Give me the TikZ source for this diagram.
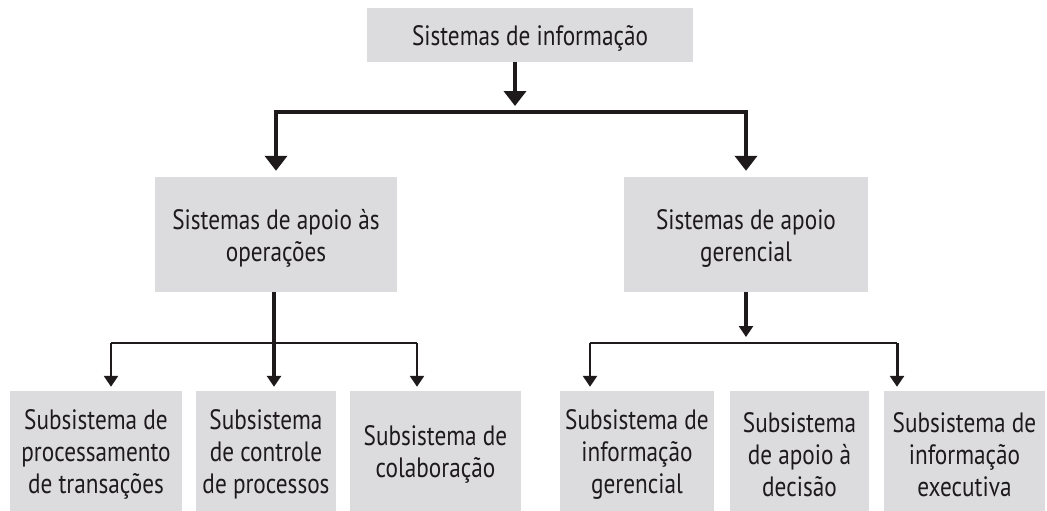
\documentclass[tikz,border=0pt]{standalone}
\usepackage{fontspec}
\setmainfont{PT Sans}[FakeStretch=0.83]
\usetikzlibrary{arrows.meta}
\definecolor{boxgray}{HTML}{DCDCDE}
\definecolor{ink}{HTML}{1E1A1B}
\tikzset{
  box/.style={fill=boxgray, draw=none, inner sep=0pt},
  txt/.style={align=center, inner sep=0pt, text=ink, yshift=-3.5pt,
    font=\fontsize{28}{32}\selectfont},
  mainline/.style={draw=ink, line width=4.2pt, line join=miter},
  subline/.style={draw=ink, line width=2.3pt, line join=miter},
  bighead/.style={-{Triangle[width=22pt,length=15pt]}},
  smallhead/.style={-{Triangle[width=14pt,length=11pt]}},
}
\begin{document}
\begin{tikzpicture}[x=1pt,y=-1pt]
\useasboundingbox (0,0) rectangle (1047,511);
% boxes
\node[box, minimum width=326pt, minimum height=54pt, label={[txt]center:Sistemas de informação}] (top) at (530,35) {};
\node[box, minimum width=242pt, minimum height=115pt, label={[txt]center:{Sistemas de apoio às\\operações}}] (opL) at (276,234.5) {};
\node[box, minimum width=244pt, minimum height=115pt, label={[txt]center:{Sistemas de apoio\\gerencial}}] (gerR) at (746,234.5) {};
\node[box, minimum width=172pt, minimum height=120pt, label={[txt]center:{Subsistema de\\processamento\\de transações}}] (b1) at (96,451) {};
\node[box, minimum width=140pt, minimum height=120pt, label={[txt]center:{Subsistema\\de controle\\de processos}}] (b2) at (266,451) {};
\node[box, minimum width=171pt, minimum height=120pt, label={[txt]center:{Subsistema de\\colaboração}}] (b3) at (435.5,451) {};
\node[box, minimum width=154pt, minimum height=120pt, label={[txt]center:{Subsistema de\\informação\\gerencial}}] (b4) at (637,451) {};
\node[box, minimum width=139pt, minimum height=120pt, label={[txt]center:{Subsistema\\de apoio à\\decisão}}] (b5) at (799.5,451) {};
\node[box, minimum width=161pt, minimum height=120pt, label={[txt]center:{Subsistema de\\informação\\executiva}}] (b6) at (964.5,451) {};
% junctions
\coordinate (j0) at (515,112);
\coordinate (jL) at (274,343);
\coordinate (jL1) at (111,343);
\coordinate (jL3) at (417,343);
\coordinate (jR) at (746,343);
\coordinate (jR1) at (590,343);
\coordinate (jR3) at (897,343);
% top level
\draw[mainline, bighead, shorten >=6pt] (top.south -| j0) -- (j0);
\draw[mainline, bighead, shorten >=6pt] (j0) -| (opL.north);
\draw[mainline, bighead, shorten >=6pt] (j0) -| (gerR.north);
% left group
\draw[subline] (jL1) -- (jL3);
\draw[mainline, smallhead, shorten >=4pt] (opL.south -| jL) -- (b2.north -| jL);
\draw[subline, smallhead, shorten >=4pt] (jL1) -- (b1.north -| jL1);
\draw[subline, smallhead, shorten >=4pt] (jL3) -- (b3.north -| jL3);
% right group
\draw[mainline, smallhead, shorten >=6pt] (gerR.south) -- (jR);
\draw[subline] (jR1) -- (jR3);
\draw[subline, smallhead, shorten >=4pt] (jR1) -- (b4.north -| jR1);
\draw[mainline, line width=3pt, smallhead, shorten >=4pt] (jR3) -- (b6.north -| jR3);
\end{tikzpicture}
\end{document}
